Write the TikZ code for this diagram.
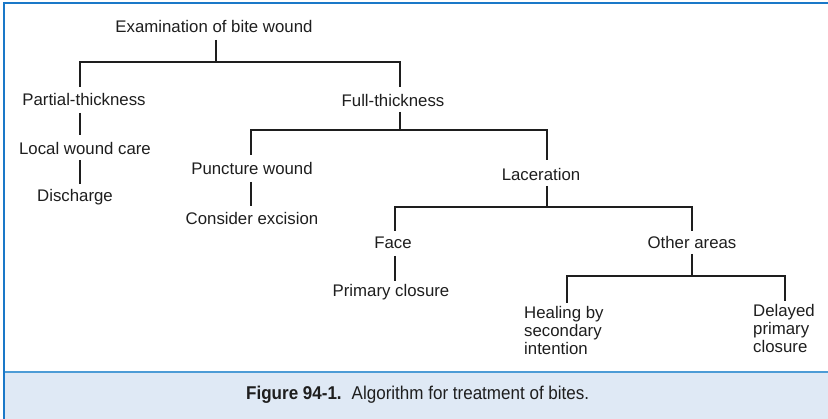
\documentclass[tikz,border=0pt]{standalone}
\usepackage{fontspec}
\setmainfont{Liberation Sans}
\newfontfamily\capfont[FakeStretch=0.92]{Liberation Sans}
\definecolor{frameblue}{HTML}{1A78C8}
\definecolor{sepblue}{HTML}{4D9CD6}
\definecolor{capfill}{HTML}{DFE9F5}
\definecolor{ink}{HTML}{1E1E1E}
\begin{document}
\begin{tikzpicture}[x=1pt,y=-1pt,
  lbl/.style={font=\fontsize{16.8}{18}\selectfont, text=ink, inner sep=0pt},
  mlbl/.style={lbl, align=left, font=\fontsize{16.8}{18}\selectfont},
  conn/.style={draw=ink, line width=1.2pt}]
\useasboundingbox (0,0) rectangle (828,419);
% caption band
\fill[capfill] (5,372) rectangle (828,419);
\draw[sepblue, line width=2pt] (5,372) -- (828,372);
\draw[frameblue, line width=2pt] (4,419) -- (4,3) -- (828,3);
\node[inner sep=0pt, anchor=west, text=ink] (cap) at (246,395)
  {\capfont\fontsize{18.5}{20}\selectfont\textbf{Figure 94-1.}\hspace{10pt}Algorithm for treatment of bites.};
% nodes
\node[lbl] (root) at (214,26) {Examination of bite wound};
\node[lbl] (pt) at (84,99) {Partial-thickness};
\node[lbl] (ft) at (393,100) {Full-thickness};
\node[lbl] (lwc) at (85,148) {Local wound care};
\node[lbl] (dis) at (75,197) {Discharge};
\node[lbl] (pw) at (252,168) {Puncture wound};
\node[lbl] (ce) at (252,218) {Consider excision};
\node[lbl] (lac) at (541,174) {Laceration};
\node[lbl] (face) at (393,243) {Face};
\node[lbl] (pc) at (391,292) {Primary closure};
\node[lbl] (oa) at (692,242) {Other areas};
\node[mlbl, anchor=north west] (heal) at (524,306) {Healing by\\secondary\\intention};
\node[mlbl, anchor=north west] (dpc) at (753,304) {Delayed\\primary\\closure};
% connectors
\coordinate (b1) at (216,62);
\draw[conn] (216,40) -- (b1);
\draw[conn] (80,87) |- (b1) -| (400,87);
\draw[conn] (80,113) -- (80,135);
\draw[conn] (80,160) -- (80,184);
\draw[conn] (400,112) -- (400,130);
\draw[conn] (251,155) |- (400,130) -| (547,160);
\draw[conn] (251,182) -- (251,206);
\draw[conn] (547,186) -- (547,207);
\draw[conn] (395,231) |- (547,207) -| (692,231);
\draw[conn] (395,256) -- (395,281);
\draw[conn] (692,254) -- (692,276);
\draw[conn] (567,303) |- (692,276) -| (785,301);
\end{tikzpicture}
\end{document}
